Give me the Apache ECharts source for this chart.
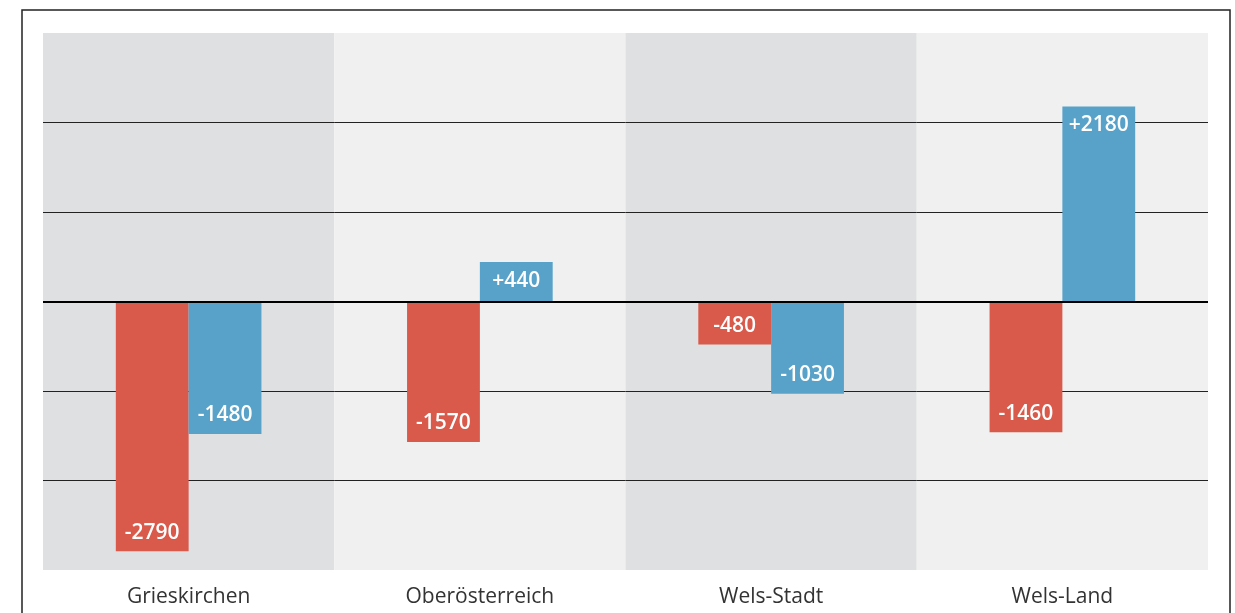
<!DOCTYPE html>
<html>
<head>
<meta charset="utf-8">
<script src="https://cdn.jsdelivr.net/npm/echarts@6/dist/echarts.min.js"></script>
<style>
  html, body { margin: 0; padding: 0; background: #fff; }
  #chart { width: 1235px; height: 613px; }
</style>
</head>
<body>
<div id="chart"></div>
<script>
  const categories = ['Grieskirchen', 'Oberösterreich', 'Wels-Stadt', 'Wels-Land']
  const redValues = [-2790, -1570, -480, -1460]
  const blueValues = [-1480, 440, -1030, 2180]
  const yMin = -3000
  const yMax = 3000
  const yStep = 1000

  const RED = '#d9594a'
  const BLUE = '#58a2c9'
  const FONT = '"Open Sans", Roboto, sans-serif'

  // label sits inside the bar at its far end
  function withLabels(values) {
    return values.map(v => ({
      value: v,
      label: { position: v < 0 ? 'insideBottom' : 'insideTop' }
    }))
  }
  function fmt(p) {
    return (p.value > 0 ? '+' : '') + p.value
  }

  const labelStyle = {
    show: true,
    color: '#fff',
    fontFamily: FONT,
    fontSize: 21,
    fontWeight: 600,
    distance: 8,
    formatter: fmt
  }

  const chart = echarts.init(document.getElementById('chart'))
  chart.setOption({
    animation: false,
    grid: { left: 43, right: 27, top: 33, bottom: 43 },
    graphic: [
      {
        type: 'rect',
        shape: { x: 22, y: 10, width: 1208, height: 620 },
        style: { fill: null, stroke: '#222', lineWidth: 1.5 },
        z: 100
      }
    ],
    xAxis: {
      type: 'category',
      data: categories,
      z: 0,
      axisLine: { show: false },
      axisTick: { show: false },
      splitArea: { show: true, areaStyle: { color: ['#dfe0e2', '#eff0ef'] } },
      axisLabel: {
        color: '#333',
        fontSize: 21,
        fontFamily: FONT,
        margin: 17
      }
    },
    yAxis: {
      type: 'value',
      min: yMin,
      max: yMax,
      interval: yStep,
      z: 1,
      axisLabel: { show: false },
      axisLine: { show: false },
      axisTick: { show: false },
      splitLine: {
        show: true,
        showMinLine: false,
        showMaxLine: false,
        lineStyle: { color: '#222', width: 1 }
      }
    },
    series: [
      {
        type: 'bar',
        z: 3,
        data: withLabels(redValues),
        itemStyle: { color: RED },
        barGap: '0%',
        barCategoryGap: '50%',
        label: labelStyle,
        markLine: {
          silent: true,
          symbol: 'none',
          label: { show: false },
          lineStyle: { color: '#000', width: 2, type: 'solid' },
          data: [{ yAxis: 0 }]
        }
      },
      {
        type: 'bar',
        z: 3,
        data: withLabels(blueValues),
        itemStyle: { color: BLUE },
        barGap: '0%',
        barCategoryGap: '50%',
        label: labelStyle
      }
    ]
  })
</script>
</body>
</html>
